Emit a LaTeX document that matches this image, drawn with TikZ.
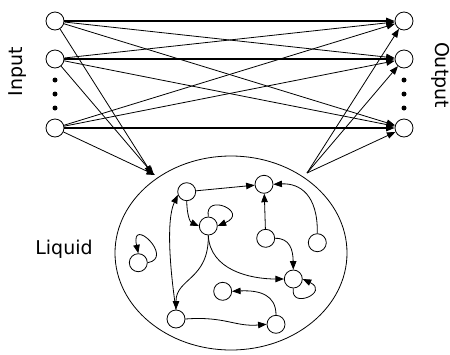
\documentclass[tikz,border=0pt]{standalone}
\usepackage{fontspec}
\setmainfont{DejaVu Sans}
\usetikzlibrary{arrows.meta}
\begin{document}
\begin{tikzpicture}[x=1pt,y=-1pt,
  neuron/.style={circle,draw,line width=0.8pt,minimum size=18pt,inner sep=0pt,fill=white},
  conn/.style={line width=0.8pt,-{Triangle[length=8.5pt,width=6.5pt]}},
  thickconn/.style={line width=1.4pt,-{Triangle[length=8.5pt,width=6.5pt]}},
  lbl/.style={font=\fontsize{19}{21}\selectfont,inner sep=0pt},
  dot/.style={circle,fill=black,inner sep=0pt,minimum size=5pt}]
\useasboundingbox (0,0) rectangle (450,354);
% reservoir
\draw[line width=0.8pt] (231,253) ellipse [x radius=116, y radius=97];
% input / output layers
\node[neuron] (in1) at (55,21) {};
\node[neuron] (in2) at (55,59) {};
\node[neuron] (in3) at (55,128) {};
\node[neuron] (out1) at (404,21) {};
\node[neuron] (out2) at (404,59) {};
\node[neuron] (out3) at (404,128) {};
\node[dot] (d1) at (55,80) {};
\node[dot] (d2) at (55,94) {};
\node[dot] (d3) at (55,108) {};
\node[dot] (e1) at (404,80) {};
\node[dot] (e2) at (404,94) {};
\node[dot] (e3) at (404,108) {};
\node[lbl,rotate=90] (tin) at (18,72) {Input};
\node[lbl,rotate=-90] (tout) at (441,75) {Output};
\node[lbl] (tliq) at (64,249) {Liquid};
\coordinate (lin1) at (152,174);
\coordinate (lin2) at (154,175);
\coordinate (lin3) at (155,175);
\coordinate (lout) at (307,173);
% input -> output
\draw[thickconn] (in1) -- (out1);
\draw[thickconn] (in2) -- (out2);
\draw[thickconn] (in3) -- (out3);
\draw[conn] (in1) -- (out2);
\draw[conn] (in1) -- (out3);
\draw[conn] (in2) -- (out1);
\draw[conn] (in2) -- (out3);
\draw[conn] (in3) -- (out1);
\draw[conn] (in3) -- (out2);
% input -> liquid
\draw[conn] (in1) -- (lin1);
\draw[conn] (in2) -- (lin2);
\draw[conn] (in3) -- (lin3);
% liquid -> output
\draw[conn] (lout) -- (out1);
\draw[conn] (lout) -- (out2);
\draw[conn] (lout) -- (out3);
% liquid neurons
\node[neuron] (A) at (186.7,191.7) {};
\node[neuron] (B) at (264,184.3) {};
\node[neuron] (C) at (208.3,226) {};
\node[neuron] (D) at (265.7,238.3) {};
\node[neuron] (E) at (317.3,242.7) {};
\node[neuron] (F) at (138.3,262.7) {};
\node[neuron] (G) at (293.3,279) {};
\node[neuron] (H) at (222.7,291.3) {};
\node[neuron] (I) at (176,319) {};
\node[neuron] (J) at (276,324.3) {};
% liquid connections
\draw[conn] (A) -- (B);
\draw[conn] (D) -- (B);
\draw[conn] (A.south) .. controls (187,215) and (190,222) .. (C.west);
\draw[conn] (C.north) .. controls (204,192) and (250,212) .. (C.east);
\draw[conn] (F.east) .. controls (175,258) and (130,215) .. (F.north);
\draw[conn] (G.south) .. controls (290,310) and (330,292) .. (G.east);
\draw[conn] (J.north) .. controls (276,295) and (260,290) .. (H.east);
\draw[conn] (I.east) .. controls (225,316) and (235,327) .. (J.west);
\draw[conn] (C.south) .. controls (210,270) and (250,279) .. (G.west);
\draw[conn] (C.south) .. controls (209,280) and (176,278) .. (I.north);
\draw[conn] (I.north) .. controls (170,270) and (166,220) .. (A.200);
\draw[conn] (D.east) .. controls (290,238) and (293,250) .. (G.north);
\draw[conn] (E.north) .. controls (318,195) and (300,183) .. (B.east);
\end{tikzpicture}
\end{document}
